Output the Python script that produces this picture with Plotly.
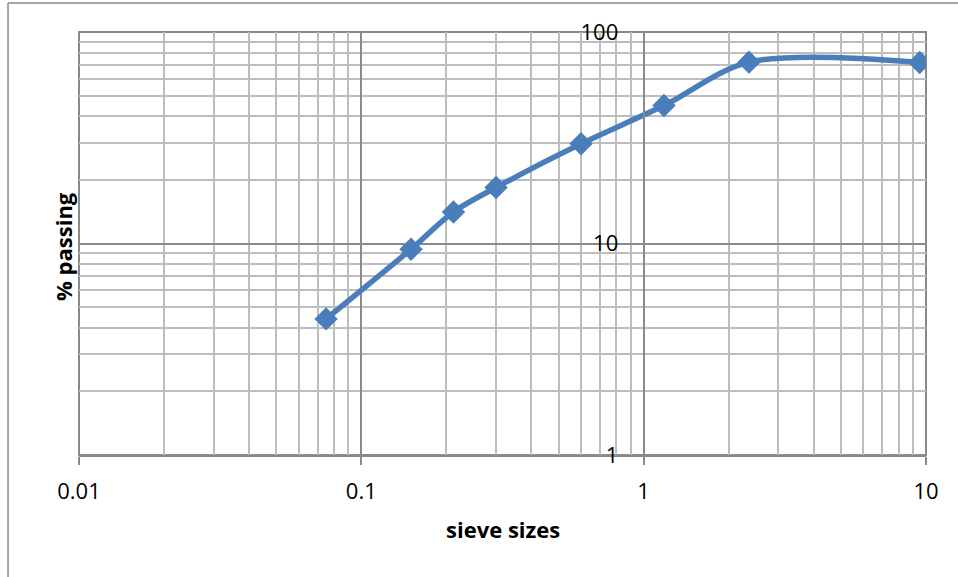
import plotly.graph_objects as go

sieve_sizes = [0.075, 0.15, 0.212, 0.3, 0.6, 1.18, 2.36, 9.5]
percent_passing = [4.4, 9.4, 14.1, 18.4, 29.6, 44.9, 72.0, 71.8]

x_ticks = [0.01, 0.1, 1, 10]
x_tick_text = ["0.01", "0.1", "1", "10"]
y_ticks = [1, 10, 100]
y_tick_text = ["1", "10", "100"]

MAJOR = "#8a8a8a"
MINOR = "#bdbdbd"
BLUE = "#4a7ebb"
FONT = "Open Sans"

fig = go.Figure()
fig.add_trace(go.Scatter(
    x=sieve_sizes, y=percent_passing, mode="lines+markers",
    line=dict(color=BLUE, width=5.5, shape="spline", smoothing=0.9),
    marker=dict(symbol="diamond", size=18, color=BLUE),
    showlegend=False, hoverinfo="x+y",
))

fig.update_layout(
    width=958, height=577,
    margin=dict(l=79, r=32, t=32, b=122),
    paper_bgcolor="white", plot_bgcolor="white",
    font=dict(family=FONT, size=22, color="black"),
    xaxis=dict(
        type="log", range=[-2, 1],
        tickmode="array", tickvals=x_ticks, ticktext=x_tick_text,
        ticks="outside", ticklen=8, tickwidth=2, tickcolor=MAJOR,
        showline=True, linecolor=MAJOR, linewidth=2,
        showgrid=True, gridcolor=MAJOR, gridwidth=2,
        minor=dict(dtick="D1", showgrid=True, gridcolor=MINOR, gridwidth=1.8, ticks=""),
        ticklabelstandoff=8,
        zeroline=False,
    ),
    yaxis=dict(
        type="log", range=[0, 2],
        anchor="free", position=2/3,
        tickmode="array", tickvals=y_ticks, ticktext=y_tick_text,
        ticks="outside", ticklen=8, tickwidth=2, tickcolor=MAJOR,
        showline=True, linecolor=MAJOR, linewidth=2,
        showgrid=True, gridcolor=MAJOR, gridwidth=2,
        minor=dict(dtick="D1", showgrid=True, gridcolor=MINOR, gridwidth=1.8, ticks=""),
        ticklabelstandoff=12,
        zeroline=False,
    ),
    annotations=[
        dict(text="sieve sizes", xref="paper", yref="paper", x=0.5, y=-0.175,
             xanchor="center", yanchor="middle", showarrow=False,
             font=dict(family=FONT, size=22, weight="bold")),
        dict(text="% passing", xref="paper", yref="paper", x=-0.019, y=0.494,
             xanchor="center", yanchor="middle", showarrow=False, textangle=-90,
             font=dict(family=FONT, size=22, weight="bold")),
    ],
    shapes=[
        dict(type="rect", xref="paper", yref="paper", x0=0, x1=1, y0=0, y1=1,
             line=dict(color=MAJOR, width=2), layer="below"),
        dict(type="line", xref="paper", yref="paper", x0=-0.0838, x1=1.2, y0=1.0686, y1=1.0686,
             line=dict(color=MAJOR, width=1.5)),
        dict(type="line", xref="paper", yref="paper", x0=-0.0838, x1=-0.0838, y0=1.0686, y1=-0.5,
             line=dict(color=MAJOR, width=1.5)),
    ],
)

fig.write_html("out.html")
